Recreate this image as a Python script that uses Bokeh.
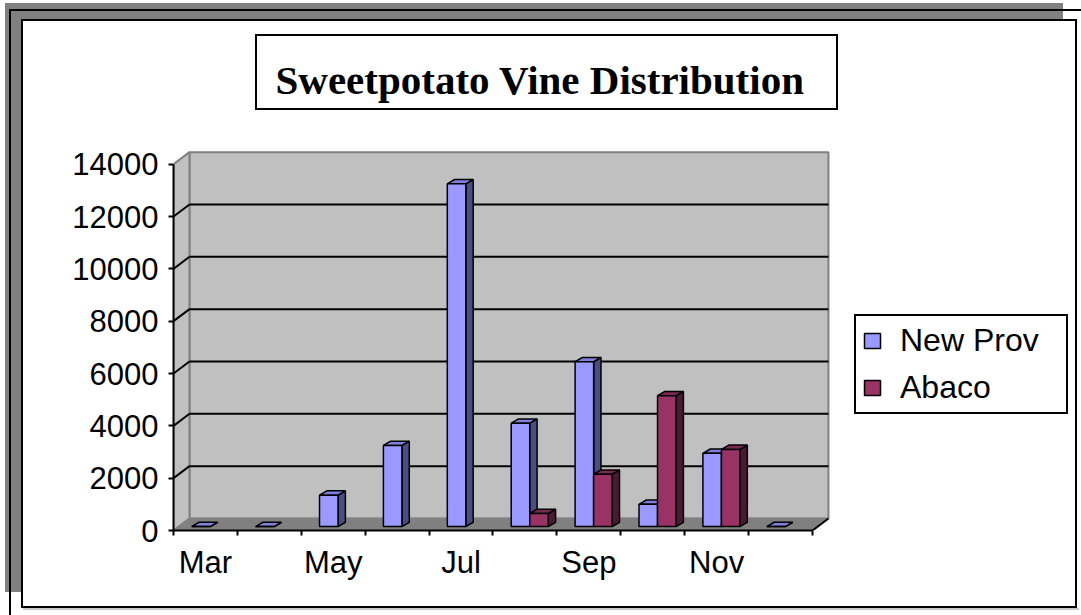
from bokeh.plotting import figure
from bokeh.models import (Range1d, FixedTicker, Legend, LegendItem, NumeralTickFormatter)
from bokeh.embed import file_html
from bokeh.resources import INLINE

# ---------------- data ----------------
months = ["Mar", "Apr", "May", "Jun", "Jul", "Aug", "Sep", "Oct", "Nov", "Dec"]
new_prov = [0, 0, 1200, 3100, 13100, 3950, 6300, 850, 2800, 0]
abaco = [None, None, None, None, None, 500, 2000, 5000, 2950, None]
y_ticks = [0, 2000, 4000, 6000, 8000, 10000, 12000, 14000]
series_names = ["New Prov", "Abaco"]
title_text = "Sweetpotato Vine Distribution"

# ---------------- styling / geometry ----------------
W, H = 1081, 615
DX, DY = 0.25, 460          # wall depth offset (data units)
BY = 150                    # bar base depth offset
BDX, BDY = 0.115, 165       # bar depth
OFFS = [(-0.215, 0.075), (0.075, 0.365)]
FRONT = ["#9999FF", "#993366"]
TOP = ["#7F7FDD", "#7A2952"]
SIDE = ["#4C4C80", "#4C1933"]
WALL = "#C0C0C0"
FLOOR = "#808080"

n = len(months)
ymax = y_ticks[-1]

# page decoration (outer frame with shadow, title box) as CSS background layers
def layer(color, x, y, w, h):
    return f"linear-gradient({color},{color}) {x}px {y}px / {w}px {h}px no-repeat"

bg = ", ".join([
    layer("white", 257, 36, 579, 72),
    layer("black", 255, 34, 583, 76),
    layer("white", 23, 21, 1052, 585),
    layer("black", 21, 19, 1056, 589),
    layer("#C8C8C8", 23, 608, 1056, 2),
    layer("black", 9, 9, 1072, 2),
    layer("black", 9, 9, 2, 606),
    layer("#808080", 5, 3, 1058, 589),
]) + ", white"

p = figure(width=W, height=H, output_backend="svg", toolbar_location=None,
           x_range=Range1d(0, 14.21), y_range=Range1d(0, 14600),
           min_border_left=173, min_border_right=0,
           min_border_top=148, min_border_bottom=85,
           styles={"background": bg})
p.outline_line_color = None
p.background_fill_color = None
p.border_fill_color = None
p.grid.visible = False

p.title.text = title_text
p.title.align = "left"
p.title.offset = 102
p.title.standoff = 92
p.title.text_font = "Liberation Serif"
p.title.text_font_style = "bold"
p.title.text_font_size = "41px"
p.title.text_color = "black"

# ---------------- 3D walls ----------------
p.quad(left=[DX], right=[n + DX], bottom=[DY], top=[ymax + DY],
       fill_color=WALL, line_color="#808080", line_width=2)
p.patch([0, DX, DX, 0], [0, DY, ymax + DY, ymax],
        fill_color=WALL, line_color="#808080", line_width=2)
p.patch([0, n, n + DX, DX], [0, 0, DY, DY],
        fill_color=FLOOR, line_color="#808080", line_width=1.5)
grid_vals = y_ticks[1:-1]
p.segment(x0=[DX] * len(grid_vals), y0=[v + DY for v in grid_vals],
          x1=[n + DX] * len(grid_vals), y1=[v + DY for v in grid_vals],
          line_color="black", line_width=2)
p.segment(x0=[0] * len(grid_vals), y0=grid_vals,
          x1=[DX] * len(grid_vals), y1=[v + DY for v in grid_vals],
          line_color="black", line_width=2)
p.segment(x0=[n], y0=[0], x1=[n + DX], y1=[DY], line_color="black", line_width=2)

# ---------------- bars ----------------
fronts = []
for s, vals in enumerate([new_prov, abaco]):
    L, R, B, T = [], [], [], []
    sx, sy, tx, ty = [], [], [], []
    for i, v in enumerate(vals):
        if v is None:
            continue
        c = i + 0.5
        x0, x1 = c + OFFS[s][0], c + OFFS[s][1]
        y0, y1 = BY, BY + v
        L.append(x0); R.append(x1); B.append(y0); T.append(y1)
        sx.append([x1, x1 + BDX, x1 + BDX, x1])
        sy.append([y0, y0 + BDY, y1 + BDY, y1])
        tx.append([x0, x1, x1 + BDX, x0 + BDX])
        ty.append([y1, y1, y1 + BDY, y1 + BDY])
    p.patches(sx, sy, fill_color=SIDE[s], line_color="black", line_width=1.5)
    p.patches(tx, ty, fill_color=TOP[s], line_color="black", line_width=1.5)
    r = p.quad(left=L, right=R, bottom=B, top=T, fill_color=FRONT[s],
               line_color="black", line_width=1.5)
    fronts.append(r)

# ---------------- axes ----------------
ya = p.yaxis[0]
ya.ticker = FixedTicker(ticks=y_ticks)
ya.formatter = NumeralTickFormatter(format="0")
ya.bounds = (0, ymax)
ya.axis_line_color = "black"
ya.axis_line_width = 2
ya.major_tick_out = 5
ya.major_tick_in = 0
ya.major_tick_line_color = "black"
ya.major_tick_line_width = 2
ya.minor_tick_line_color = None
ya.major_label_standoff = 10
ya.major_label_text_font = "Liberation Sans"
ya.major_label_text_font_size = "31px"
ya.major_label_text_color = "black"

xa = p.xaxis[0]
label_pos = [i + 0.5 for i in range(0, n, 2)]
xa.ticker = FixedTicker(ticks=label_pos, minor_ticks=list(range(n + 1)))
xa.major_label_overrides = {pos: months[i] for pos, i in zip(label_pos, range(0, n, 2))}
xa.bounds = (0, n)
xa.axis_line_color = "black"
xa.axis_line_width = 2
xa.major_tick_out = 0
xa.major_tick_in = 0
xa.minor_tick_out = 5
xa.minor_tick_in = 0
xa.minor_tick_line_color = "black"
xa.minor_tick_line_width = 2
xa.major_label_standoff = 9
xa.major_label_text_font = "Liberation Sans"
xa.major_label_text_font_size = "31px"
xa.major_label_text_color = "black"

# ---------------- legend ----------------
legend = Legend(items=[LegendItem(label=series_names[0], renderers=[fronts[0]]),
                       LegendItem(label=series_names[1], renderers=[fronts[1]])],
                location=(681, 116), orientation="vertical",
                label_text_font="Liberation Sans", label_text_font_size="32px",
                label_text_color="black",
                glyph_width=20, glyph_height=19, label_standoff=18,
                padding=6, spacing=10, label_height=36, label_width=160,
                border_line_color="black", border_line_width=2,
                border_line_alpha=1,
                background_fill_color="white", background_fill_alpha=1,
                margin=0)
p.add_layout(legend)

open("out.html", "w").write(file_html(p, INLINE))
